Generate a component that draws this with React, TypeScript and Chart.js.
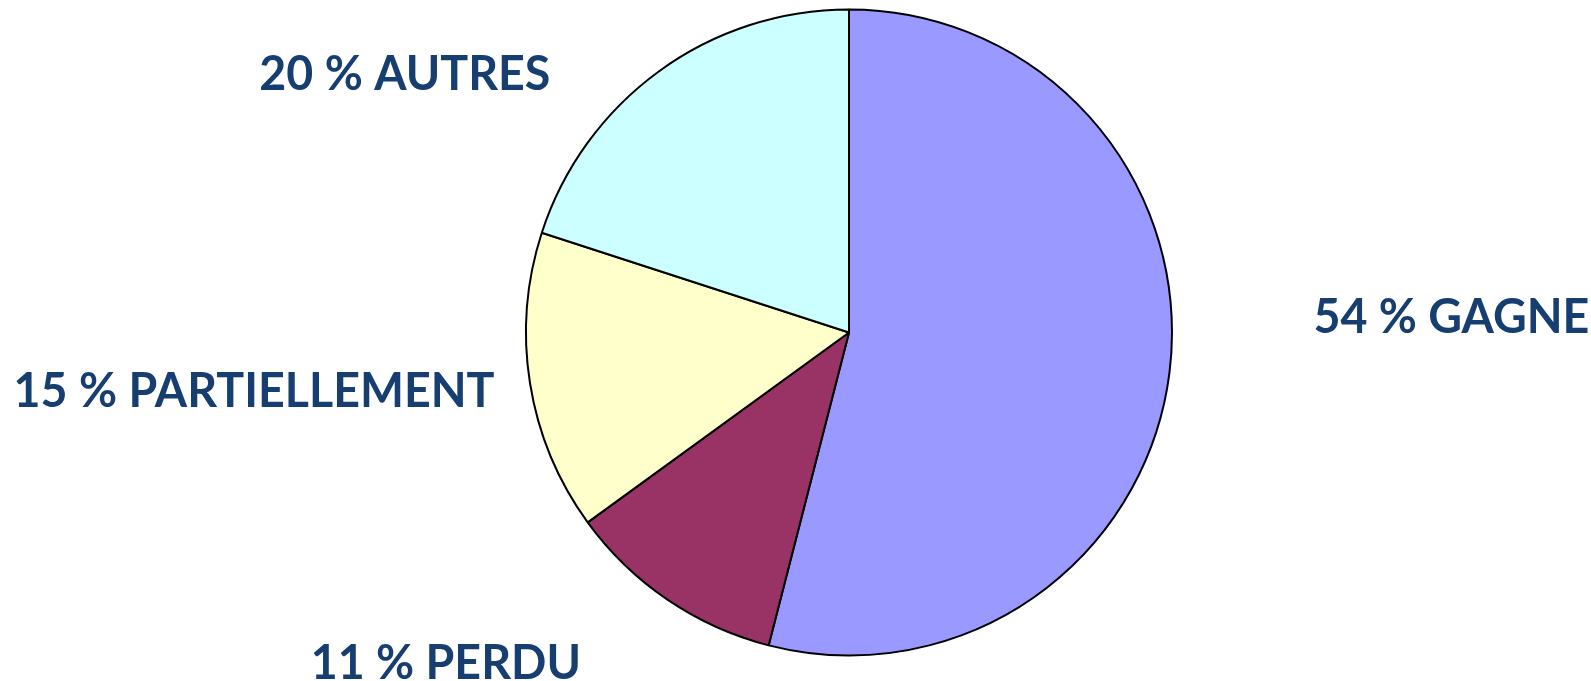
import React, { useEffect, useRef } from "react";
import { Chart, registerables } from "chart.js";

Chart.register(...registerables);

const categories = ["GAGNE", "PERDU", "PARTIELLEMENT", "AUTRES"];
const values = [54, 11, 15, 20];
const sliceColors = ["#9999FF", "#993366", "#FFFFCC", "#CCFFFF"];

// label anchor offsets (centre of text), expressed in pie radii from the pie centre
const labelOffsets: [number, number][] = [
  [1.865, -0.053],
  [-1.248, 1.019],
  [-1.842, 0.176],
  [-1.375, -0.805],
];

const labelPlugin = {
  id: "outerLabels",
  afterDatasetsDraw(chart: any) {
    const meta = chart.getDatasetMeta(0);
    const ctx = chart.ctx;
    meta.data.forEach((arc: any, i: number) => {
      const { x, y, outerRadius } = arc.getProps(["x", "y", "outerRadius"], true);
      const [dx, dy] = labelOffsets[i];
      const text = `${values[i]} % ${categories[i]}`;
      ctx.save();
      ctx.fillStyle = "#173E70";
      ctx.font = "bold 48px Lato";
      ctx.textAlign = "center";
      ctx.textBaseline = "middle";
      ctx.translate(x + dx * outerRadius, y + dy * outerRadius + 2);
      ctx.scale(0.97, 1);
      ctx.fillText(text, 0, 0);
      ctx.restore();
    });
  },
};

export default function App() {
  const ref = useRef<HTMLCanvasElement>(null);
  useEffect(() => {
    if (!ref.current) return;
    const chart = new Chart(ref.current, {
      type: "pie",
      data: {
        labels: categories,
        datasets: [
          {
            data: values,
            backgroundColor: sliceColors,
            borderColor: "#000000",
            borderWidth: 2,
          },
        ],
      },
      options: {
        responsive: false,
        animation: false,
        layout: { padding: { left: 107, right: 0, top: 8.5, bottom: 24.5 } },
        plugins: {
          legend: { display: false },
          tooltip: { enabled: false },
        },
      },
      plugins: [labelPlugin],
    });
    return () => chart.destroy();
  }, []);
  return (
    <div style={{ position: "fixed", left: 0, top: 0, width: 1591, height: 681, background: "#fff" }}>
      <canvas ref={ref} width={1591} height={681} style={{ width: 1591, height: 681 }} />
    </div>
  );
}
